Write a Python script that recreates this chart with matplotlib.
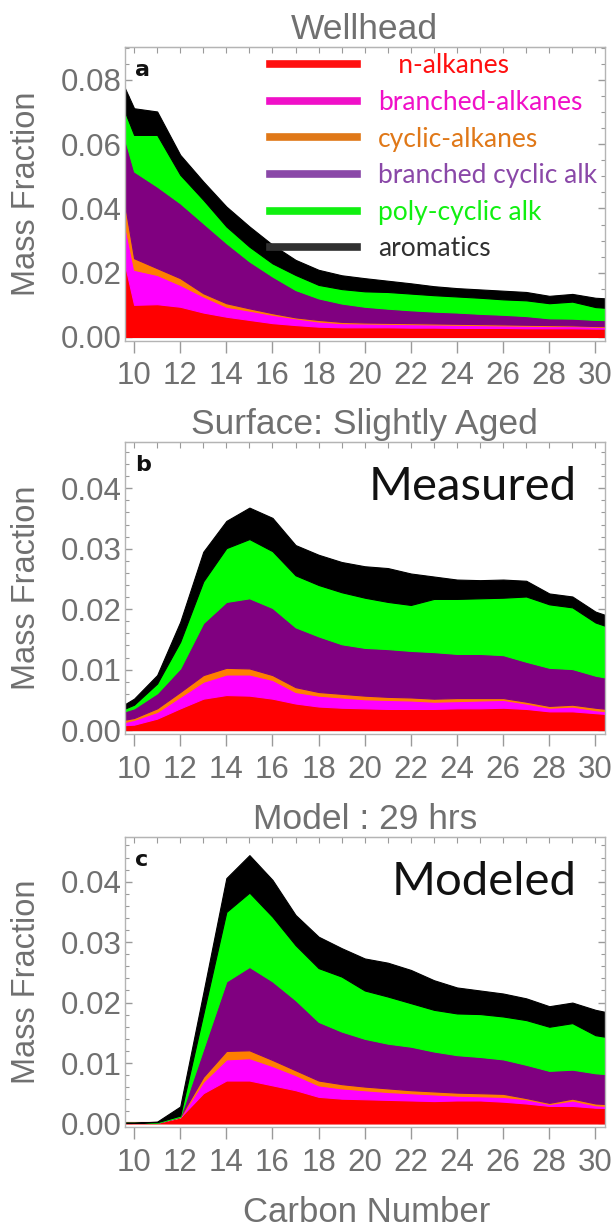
import numpy as np
import matplotlib
matplotlib.use("Agg")
import matplotlib.pyplot as plt
from matplotlib.lines import Line2D
from matplotlib.ticker import MultipleLocator, FormatStrFormatter

plt.rcParams["font.family"] = ["Liberation Sans", "DejaVu Sans"]

# carbon numbers (plot range is clipped to 9.6 - 30.4)
carbon = np.arange(9, 32)

labels = ["n-alkanes", "branched-alkanes", "cyclic-alkanes",
          "branched cyclic alk", "poly-cyclic alk", "aromatics"]
fill_colors = ["#ff0000", "#ff00ff", "#ff7f00", "#800080", "#00ff00", "#000000"]
legend_colors = ["#ff1010", "#f010c8", "#e07818", "#8a48a8", "#10f010", "#303030"]

# a: wellhead
a_n = [0.0414, 0.0100, 0.0102, 0.0094, 0.0076, 0.0063, 0.0053, 0.0043, 0.0037, 0.0032, 0.0030, 0.0030,
       0.0030, 0.0029, 0.0029, 0.0028, 0.0028, 0.0028, 0.0027, 0.0027, 0.0027, 0.0026, 0.0026]
a_br = [0.0144, 0.0109, 0.0091, 0.0068, 0.0050, 0.0031, 0.0029, 0.0026, 0.0021, 0.0016, 0.0013, 0.0012,
        0.0011, 0.0011, 0.0010, 0.0010, 0.0009, 0.0008, 0.0008, 0.0007, 0.0007, 0.0006, 0.0005]
a_cy = [0.0110, 0.0036, 0.0021, 0.0021, 0.0010, 0.0011, 0.0007, 0.0005, 0.0003, 0.0005, 0.0004, 0.0003,
        0.0003, 0.0003, 0.0003, 0.0003, 0.0003, 0.0003, 0.0003, 0.0003, 0.0002, 0.0002, 0.0002]
a_bc = [0.0100, 0.0270, 0.0254, 0.0233, 0.0218, 0.0187, 0.0146, 0.0114, 0.0085, 0.0067, 0.0057, 0.0049,
        0.0044, 0.0040, 0.0037, 0.0035, 0.0032, 0.0030, 0.0027, 0.0021, 0.0021, 0.0019, 0.0019]
a_pc = [0.0042, 0.0114, 0.0161, 0.0089, 0.0073, 0.0052, 0.0046, 0.0041, 0.0047, 0.0042, 0.0045, 0.0048,
        0.0052, 0.0052, 0.0051, 0.0050, 0.0050, 0.0048, 0.0049, 0.0047, 0.0053, 0.0040, 0.0036]
a_ar = [0.0060, 0.0083, 0.0073, 0.0062, 0.0057, 0.0062, 0.0063, 0.0058, 0.0047, 0.0047, 0.0043, 0.0041,
        0.0035, 0.0032, 0.0028, 0.0026, 0.0026, 0.0027, 0.0026, 0.0023, 0.0024, 0.0029, 0.0030]

# b: surface, slightly aged (measured)
b_n = [0.0007, 0.0009, 0.0019, 0.0036, 0.0052, 0.0058, 0.0057, 0.0052, 0.0044, 0.0039, 0.0037, 0.0036,
       0.0035, 0.0035, 0.0035, 0.0036, 0.0036, 0.0037, 0.0035, 0.0031, 0.0031, 0.0028, 0.0025]
b_br = [0.0001, 0.0008, 0.0011, 0.0019, 0.0028, 0.0034, 0.0035, 0.0031, 0.0019, 0.0018, 0.0017, 0.0015,
        0.0015, 0.0014, 0.0012, 0.0012, 0.0013, 0.0013, 0.0009, 0.0006, 0.0008, 0.0005, 0.0004]
b_cy = [0.0005, 0.0003, 0.0006, 0.0008, 0.0011, 0.0011, 0.0010, 0.0008, 0.0008, 0.0006, 0.0006, 0.0006,
        0.0005, 0.0005, 0.0005, 0.0005, 0.0004, 0.0003, 0.0003, 0.0003, 0.0003, 0.0004, 0.0004]
b_bc = [0.0011, 0.0016, 0.0025, 0.0039, 0.0086, 0.0109, 0.0116, 0.0111, 0.0099, 0.0092, 0.0082, 0.0079,
        0.0079, 0.0077, 0.0077, 0.0073, 0.0073, 0.0071, 0.0066, 0.0063, 0.0059, 0.0053, 0.0050]
b_pc = [0.0002, 0.0006, 0.0016, 0.0044, 0.0069, 0.0089, 0.0098, 0.0094, 0.0086, 0.0085, 0.0086, 0.0083,
        0.0078, 0.0076, 0.0088, 0.0091, 0.0092, 0.0095, 0.0108, 0.0105, 0.0102, 0.0088, 0.0082]
b_ar = [0.0003, 0.0010, 0.0014, 0.0033, 0.0049, 0.0045, 0.0052, 0.0055, 0.0050, 0.0050, 0.0050, 0.0052,
        0.0056, 0.0052, 0.0037, 0.0032, 0.0030, 0.0030, 0.0026, 0.0018, 0.0018, 0.0018, 0.0018]

# c: model, 29 hrs
c_n = [0.0001, 0.0001, 0.0001, 0.0010, 0.0050, 0.0071, 0.0071, 0.0063, 0.0055, 0.0044, 0.0041, 0.0040,
       0.0039, 0.0038, 0.0037, 0.0038, 0.0038, 0.0036, 0.0033, 0.0029, 0.0029, 0.0026, 0.0025]
c_br = [0.0, 0.0, 0.0, 0.0, 0.0019, 0.0035, 0.0037, 0.0032, 0.0025, 0.0019, 0.0017, 0.0015,
        0.0013, 0.0012, 0.0011, 0.0008, 0.0007, 0.0008, 0.0007, 0.0003, 0.0009, 0.0004, 0.0003]
c_cy = [0.0, 0.0, 0.0, 0.0001, 0.0008, 0.0014, 0.0013, 0.0010, 0.0008, 0.0008, 0.0007, 0.0006,
        0.0006, 0.0005, 0.0005, 0.0005, 0.0005, 0.0005, 0.0002, 0.0002, 0.0003, 0.0003, 0.0003]
c_bc = [0.0, 0.0, 0.0, 0.0, 0.0046, 0.0115, 0.0138, 0.0130, 0.0116, 0.0097, 0.0087, 0.0079,
        0.0074, 0.0072, 0.0066, 0.0062, 0.0060, 0.0057, 0.0055, 0.0053, 0.0048, 0.0050, 0.0049]
c_pc = [0.0, 0.0, 0.0001, 0.0002, 0.0058, 0.0115, 0.0123, 0.0107, 0.0091, 0.0089, 0.0091, 0.0080,
        0.0078, 0.0072, 0.0069, 0.0069, 0.0071, 0.0071, 0.0074, 0.0073, 0.0077, 0.0063, 0.0060]
c_ar = [0.0, 0.0, 0.0001, 0.0015, 0.0035, 0.0056, 0.0062, 0.0061, 0.0050, 0.0052, 0.0047, 0.0053,
        0.0056, 0.0055, 0.0049, 0.0043, 0.0039, 0.0038, 0.0036, 0.0034, 0.0034, 0.0042, 0.0040]

gray_txt = "#707070"
gray_frame = "#b4b4b4"
gray_tick = "#9a9a9a"

fig = plt.figure(figsize=(6.12, 12.28), dpi=100)

panels = [
    ([a_n, a_br, a_cy, a_bc, a_pc, a_ar], "Wellhead", "a", None,
     (-0.00115, 0.0903), 0.02, 0.005, [0.204, 0.7226, 0.784, 0.2392]),
    ([b_n, b_br, b_cy, b_bc, b_pc, b_ar], "Surface: Slightly Aged", "b", "Measured",
     (-0.0006, 0.0477), 0.01, 0.002, [0.204, 0.4025, 0.784, 0.2378]),
    ([c_n, c_br, c_cy, c_bc, c_pc, c_ar], "Model : 29 hrs", "c", "Modeled",
     (-0.0006, 0.0474), 0.01, 0.002, [0.204, 0.0822, 0.784, 0.2362]),
]

for layers, title, letter, tag, ylim, ymaj, ymin, rect in panels:
    ax = fig.add_axes(rect)
    ax.axhline(0, color=gray_frame, lw=1, zorder=0.5)
    ax.stackplot(carbon, *layers, colors=fill_colors, edgecolor="face", linewidth=0.8, zorder=2)
    # keep the zero-level n-alkane trace visible
    ax.plot(carbon, layers[0], color="#ff0000", lw=1.3, zorder=1.9)
    ax.set_xlim(9.6, 30.4)
    ax.set_ylim(*ylim)

    ax.xaxis.set_major_locator(MultipleLocator(2))
    ax.set_yticks(np.arange(0, ylim[1], ymaj))
    ax.yaxis.set_minor_locator(MultipleLocator(ymin))
    ax.yaxis.set_major_formatter(FormatStrFormatter("%.2f"))
    ax.tick_params(axis="x", which="major", direction="out", length=8.5, width=1,
                   color=gray_tick, labelsize=22.5, labelcolor=gray_txt, pad=6.5)
    ax.tick_params(axis="y", which="both", direction="in", left=True, right=True,
                   color=gray_tick, labelsize=22.5, labelcolor=gray_txt, pad=2)
    ax.tick_params(axis="y", which="major", length=5, width=1)
    ax.tick_params(axis="y", which="minor", length=3, width=0.8)
    top = ax.secondary_xaxis("top")
    top.set_xticks(range(10, 31))
    top.tick_params(direction="in", length=4, width=0.8, color=gray_tick, labeltop=False)
    top.spines["top"].set_color(gray_frame)
    for s in ax.spines.values():
        s.set_color(gray_frame)
        s.set_linewidth(1)

    ax.set_title(title, fontsize=25.5, color=gray_txt, pad=5.5)
    ax.text(0.022, 0.955, letter, transform=ax.transAxes, fontsize=16, fontweight="bold",
            family="DejaVu Sans", va="top", ha="left", color="#111111", zorder=5)
    if tag:
        ax.text(0.942, 0.80, tag, transform=ax.transAxes, fontsize=34, family="Lato",
                ha="right", va="baseline", color="#111111", zorder=5)
    else:
        handles = [Line2D([0], [0], color=c, lw=5.5) for c in legend_colors]
        leg_labels = ["   " + labels[0]] + labels[1:]
        ax.legend(handles, leg_labels, loc="upper left", bbox_to_anchor=(0.302, 0.978),
                  frameon=False, prop={"family": "Lato", "size": 19}, handlelength=3.3,
                  handletextpad=0.8, labelspacing=0.44, borderpad=0, borderaxespad=0,
                  labelcolor=legend_colors)

    fig.text(27 / 612, rect[1] + rect[3] / 2, "Mass Fraction", rotation=90, ha="center",
             va="center", fontsize=23.5, color=gray_txt)

fig.text(367 / 612, 1 - 1213 / 1228, "Carbon Number", ha="center", va="center",
         fontsize=25, color=gray_txt)

fig.savefig("out.png", dpi=100)
